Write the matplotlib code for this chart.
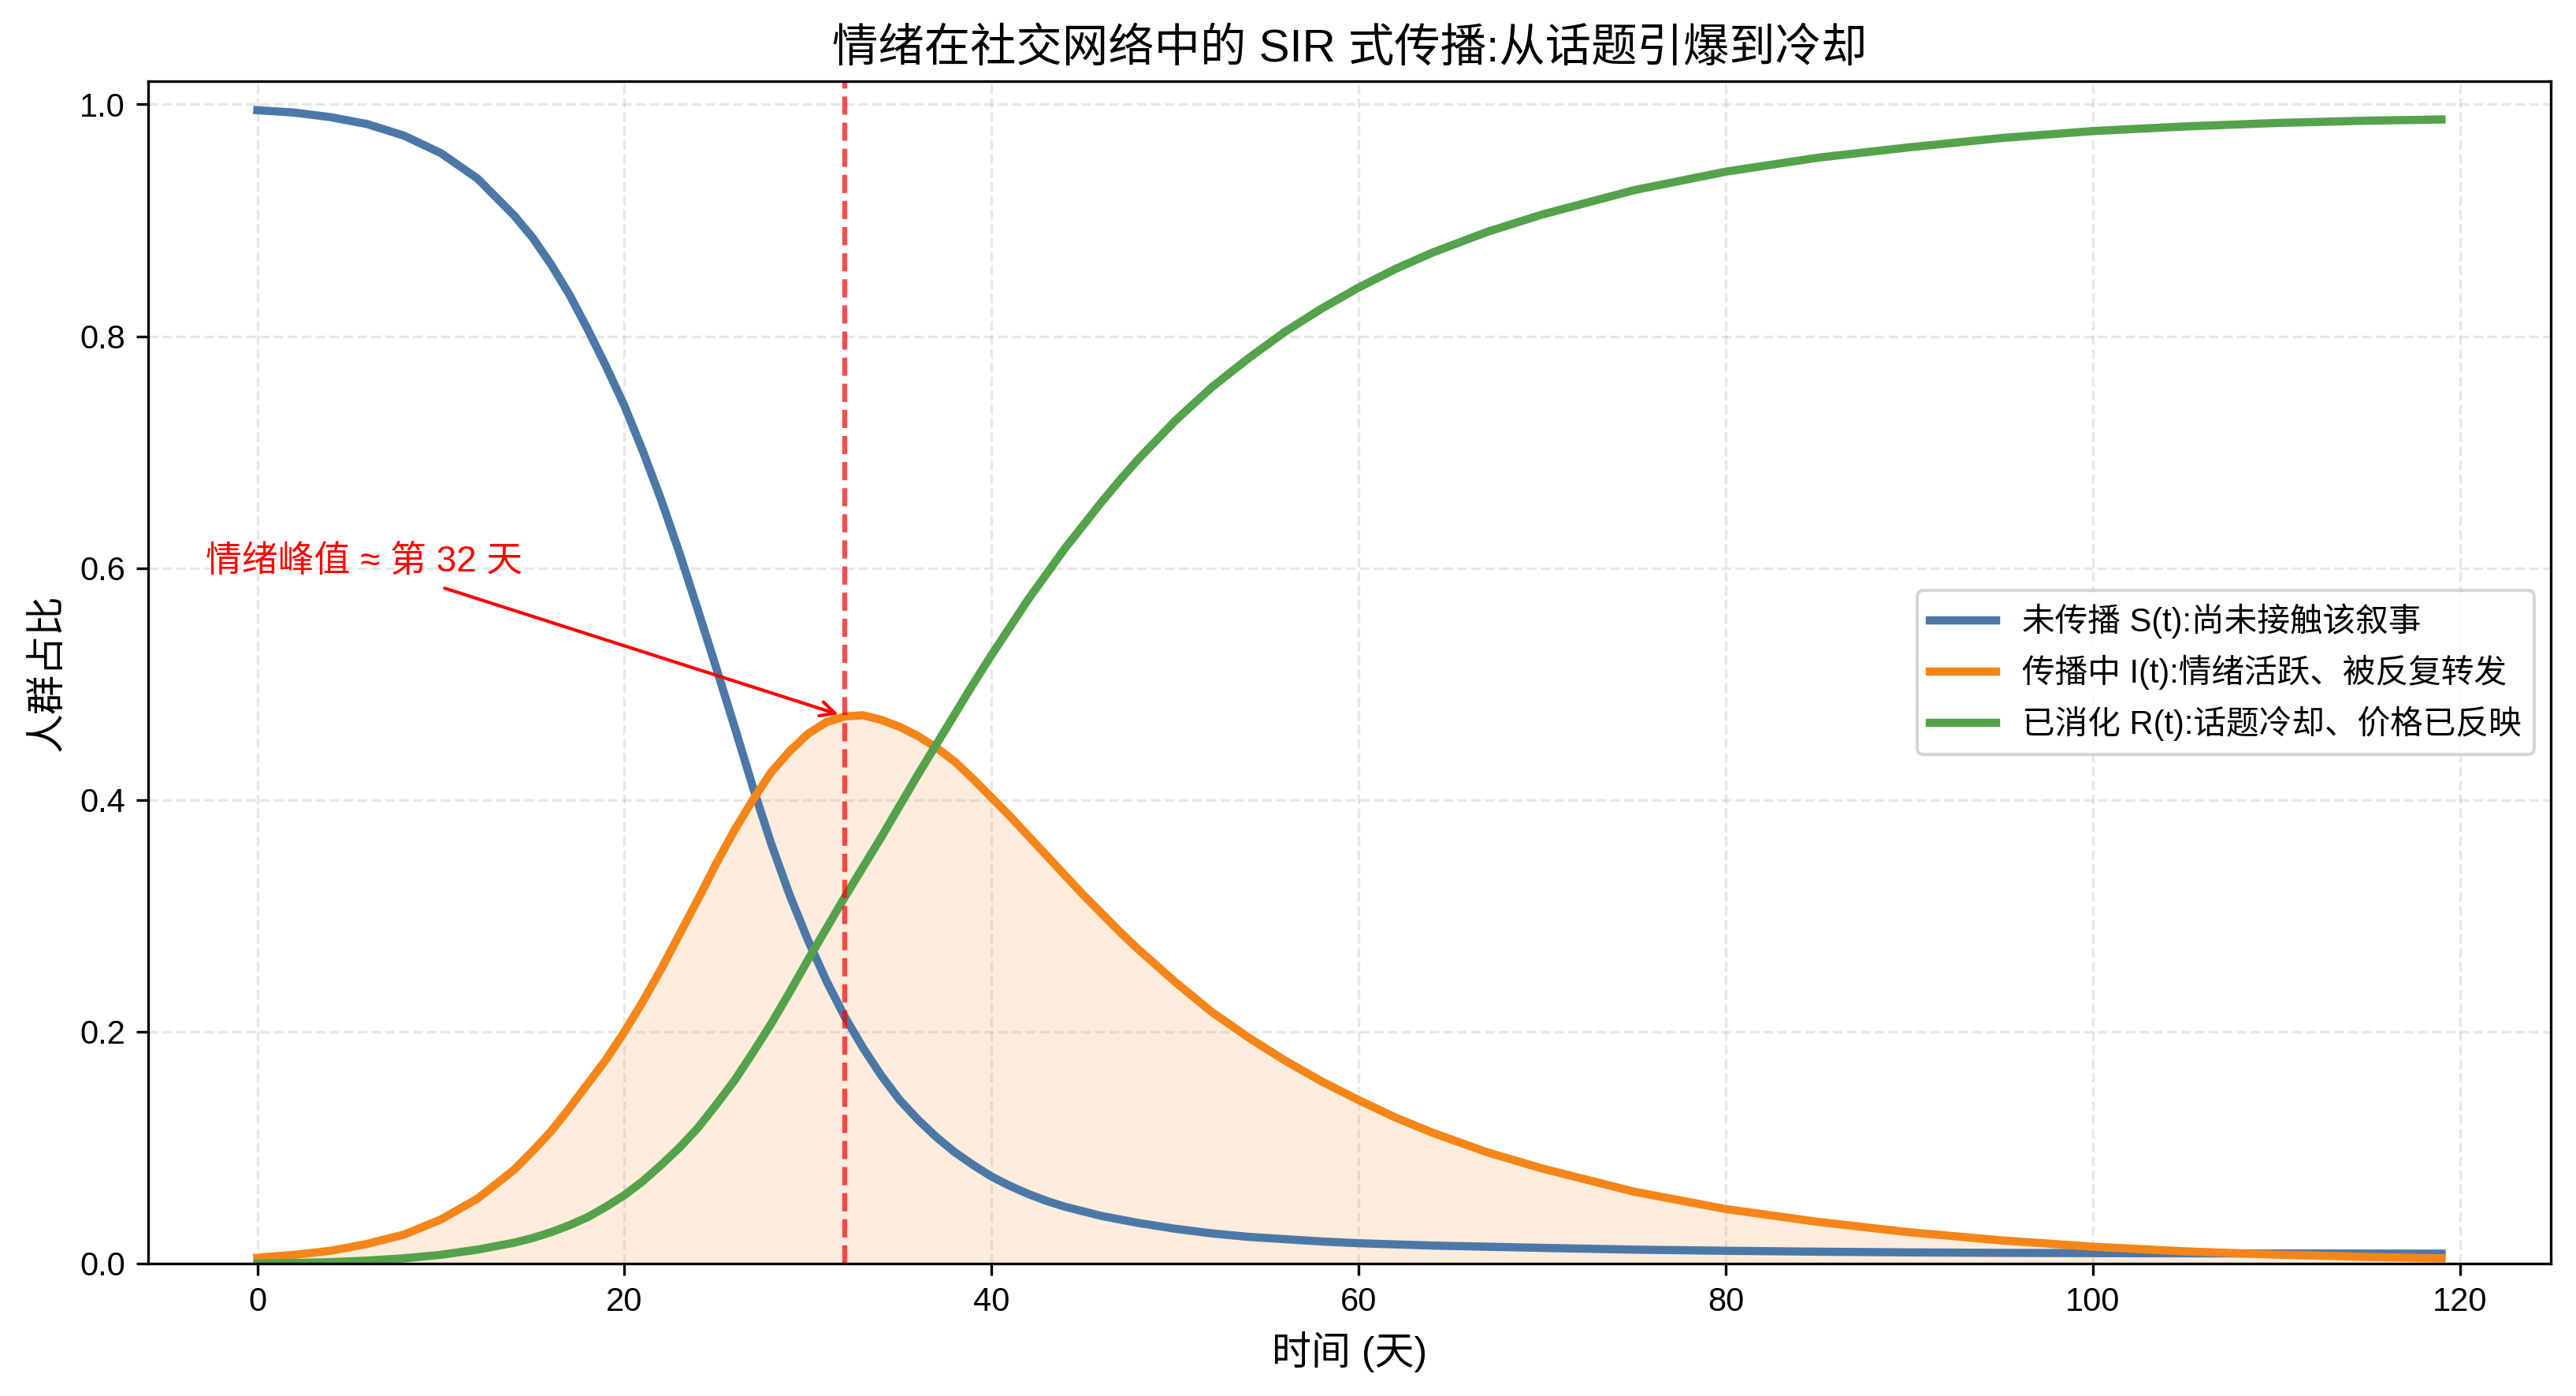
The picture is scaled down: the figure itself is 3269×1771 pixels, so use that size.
import matplotlib
matplotlib.use("Agg")
import matplotlib.pyplot as plt

plt.rcParams['font.family'] = ['Liberation Sans', 'Noto Sans CJK SC', 'DejaVu Sans']
plt.rcParams['axes.unicode_minus'] = False

# values (fraction of population)
days = [0, 2, 4, 6, 8, 10, 12, 14, 15, 16, 17, 18, 19, 20, 21, 22, 23, 24, 25, 26,
        27, 28, 29, 30, 31, 32, 33, 34, 35, 36, 37, 38, 39, 40, 41, 42, 43, 44, 45,
        46, 47, 48, 50, 52, 54, 56, 58, 60, 62, 64, 67, 70, 75, 80, 85, 90, 95, 100,
        105, 110, 115, 119]

susceptible = [0.995, 0.993, 0.989, 0.983, 0.973, 0.958, 0.936, 0.904, 0.885, 0.862,
               0.836, 0.806, 0.774, 0.740, 0.701, 0.659, 0.613, 0.564, 0.514, 0.463,
               0.411, 0.362, 0.318, 0.279, 0.244, 0.213, 0.186, 0.162, 0.141, 0.124,
               0.109, 0.096, 0.085, 0.075, 0.067, 0.060, 0.054, 0.049, 0.045,
               0.041, 0.038, 0.035, 0.030, 0.026, 0.023, 0.021, 0.019, 0.0175, 0.0165,
               0.0155, 0.0145, 0.0135, 0.012, 0.011, 0.0102, 0.0096, 0.0092, 0.0090,
               0.0088, 0.0087, 0.0086, 0.0085]

infected = [0.005, 0.0075, 0.011, 0.017, 0.025, 0.038, 0.056, 0.081, 0.097, 0.114,
            0.134, 0.155, 0.176, 0.200, 0.226, 0.254, 0.284, 0.314, 0.345, 0.374,
            0.400, 0.424, 0.442, 0.457, 0.467, 0.472, 0.473, 0.469, 0.463, 0.455,
            0.445, 0.433, 0.418, 0.402, 0.386, 0.369, 0.352, 0.335, 0.318,
            0.302, 0.286, 0.271, 0.243, 0.217, 0.195, 0.175, 0.157, 0.141, 0.126,
            0.113, 0.096, 0.082, 0.062, 0.047, 0.036, 0.027, 0.020, 0.0145,
            0.0105, 0.0077, 0.0057, 0.0045]

recovered = [0.000, 0.0005, 0.0012, 0.0025, 0.0045, 0.0075, 0.012, 0.018, 0.022, 0.027,
             0.033, 0.040, 0.049, 0.059, 0.071, 0.085, 0.100, 0.117, 0.137, 0.158,
             0.182, 0.207, 0.234, 0.262, 0.289, 0.316, 0.342, 0.368, 0.395, 0.422,
             0.448, 0.474, 0.500, 0.525, 0.549, 0.573, 0.595, 0.617, 0.637,
             0.657, 0.676, 0.694, 0.727, 0.756, 0.781, 0.804, 0.824, 0.842, 0.858,
             0.872, 0.890, 0.905, 0.926, 0.942, 0.954, 0.963, 0.971, 0.977,
             0.981, 0.984, 0.986, 0.987]

labels = ['未传播 S(t):尚未接触该叙事',
          '传播中 I(t):情绪活跃、被反复转发',
          '已消化 R(t):话题冷却、价格已反映']
colors = ['#4C78A8', '#F58518', '#54A24B']

peak_day = 32
peak_value = infected[days.index(peak_day)]

fig = plt.figure(figsize=(3269 / 300, 1771 / 300), dpi=300)
ax = fig.add_axes([0.0575, 0.0949, 0.9327, 0.8469])

ax.plot(days, susceptible, color=colors[0], lw=2.5, label=labels[0])
ax.plot(days, infected, color=colors[1], lw=2.5, label=labels[1])
ax.plot(days, recovered, color=colors[2], lw=2.5, label=labels[2])
ax.fill_between(days, infected, 0, color=colors[1], alpha=0.15, lw=0)

ax.axvline(peak_day, color='red', linestyle='--', lw=1.5, alpha=0.7)
ax.annotate(f'情绪峰值 ≈ 第 {peak_day} 天', xy=(peak_day, peak_value),
            xytext=(5.8, 0.605), ha='center', va='center', color='red', fontsize=11,
            arrowprops=dict(arrowstyle='->', color='red', lw=1))

ax.set_ylim(0, 1.02)
ax.set_title('情绪在社交网络中的 SIR 式传播:从话题引爆到冷却', fontsize=14)
ax.set_xlabel('时间 (天)', fontsize=12)
ax.set_ylabel('人群占比', fontsize=12)
ax.tick_params(labelsize=10)
ax.grid(True, linestyle='--', alpha=0.3)
ax.legend(loc='center right', fontsize=10)

fig.savefig('out.png', dpi=300)
